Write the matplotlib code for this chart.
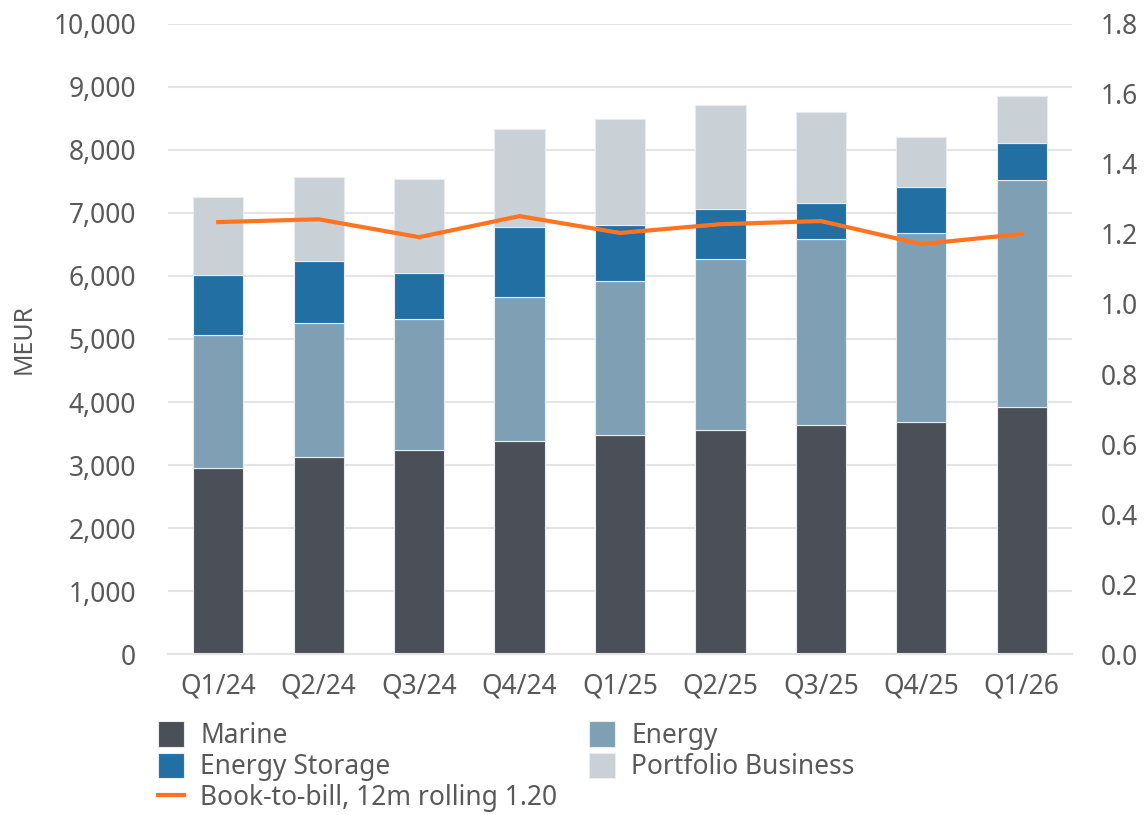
import numpy as np
import matplotlib
matplotlib.use("Agg")
import matplotlib.pyplot as plt
from matplotlib.ticker import FuncFormatter

plt.rcParams['font.family'] = ['Noto Sans', 'DejaVu Sans']

quarters = ['Q1/24', 'Q2/24', 'Q3/24', 'Q4/24', 'Q1/25', 'Q2/25', 'Q3/25', 'Q4/25', 'Q1/26']
marine = [2960, 3120, 3240, 3380, 3470, 3560, 3630, 3690, 3920]
energy = [2100, 2135, 2075, 2290, 2450, 2710, 2965, 2995, 3600]
storage = [950, 980, 725, 1105, 885, 790, 560, 720, 590]
portfolio = [1250, 1340, 1495, 1560, 1685, 1660, 1440, 800, 740]
book_to_bill = [1.234, 1.242, 1.191, 1.251, 1.203, 1.228, 1.237, 1.171, 1.200]

txt = '#595959'
fs = 19

fig = plt.figure(figsize=(11.45, 8.15), dpi=100)
ax = fig.add_axes([0.1467, 0.1975, 0.7895, 0.7731])
ax2 = ax.twinx()

x = np.arange(len(quarters))
w = 0.5
bottom = np.zeros(len(quarters))
series = [('Marine', marine, '#4b4f57'),
          ('Energy', energy, '#7fa0b4'),
          ('Energy Storage', storage, '#226fa3'),
          ('Portfolio Business', portfolio, '#c9d0d6')]
bars = {}
for name, vals, col in series:
    vals = np.array(vals)
    bars[name] = ax.bar(x, vals, w, bottom=bottom, color=col, edgecolor='#e8ecef',
                        linewidth=0.8, label=name, zorder=2)
    bottom += vals

line, = ax2.plot(x, book_to_bill, color='#ff7321', lw=3, solid_joinstyle='miter',
                 label='Book-to-bill, 12m rolling 1.20', zorder=3)

ax.set_xlim(-0.5, len(quarters) - 0.5)
ax.set_ylim(0, 10000)
ax.set_yticks(np.arange(0, 10001, 1000))
ax.yaxis.set_major_formatter(FuncFormatter(lambda v, p: f'{v:,.0f}'))
ax2.set_ylim(0, 1.8)
ax2.set_yticks(np.arange(0, 1.81, 0.2))
ax2.yaxis.set_major_formatter(FuncFormatter(lambda v, p: f'{v:.1f}'))

ax.set_xticks(x)
ax.set_xticklabels(quarters)
ax.grid(axis='y', color='#e4e4e4', lw=1.5, zorder=0)
ax.set_axisbelow(True)
for a in (ax, ax2):
    for s in a.spines.values():
        s.set_visible(False)
ax.spines['bottom'].set_visible(True)
ax.spines['bottom'].set_color('#e4e4e4')
ax.spines['bottom'].set_linewidth(1.5)
ax.tick_params(axis='y', length=0, pad=23, labelsize=fs, labelcolor=txt)
ax.tick_params(axis='x', length=0, pad=13, labelsize=fs, labelcolor=txt)
ax2.tick_params(axis='y', length=0, pad=21, labelsize=fs, labelcolor=txt)
ax.set_ylabel('MEUR', fontsize=fs - 1, color=txt)
ax.yaxis.set_label_coords(-0.145, 0.5)

# legend: column-first fill, so the line lands under the two left patches
handles = [bars['Marine'], bars['Energy Storage'], line, bars['Energy'], bars['Portfolio Business']]
labels = [h.get_label() for h in handles]
leg = fig.legend(handles, labels, loc='upper left', bbox_to_anchor=(0.138, 0.115), ncol=2,
                 frameon=False, fontsize=fs, labelcolor=txt, handlelength=1.0, handleheight=1.1,
                 handletextpad=0.6, labelspacing=0.1, columnspacing=1.2, borderpad=0, borderaxespad=0)

fig.savefig('out.png', dpi=100)
